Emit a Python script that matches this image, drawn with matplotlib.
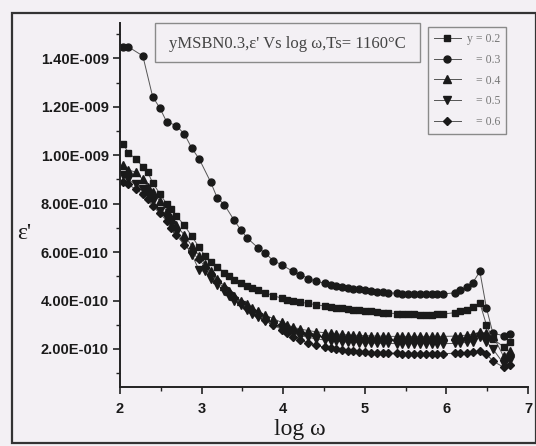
import matplotlib
matplotlib.use('Agg')
import matplotlib.pyplot as plt
import numpy as np
from matplotlib.ticker import FixedLocator, MultipleLocator, FuncFormatter
from matplotlib.patches import Rectangle

nan = float('nan')

log_w = [2.04, 2.10, 2.19, 2.28, 2.34, 2.40, 2.49, 2.57, 2.63, 2.69,
         2.79, 2.88, 2.97, 3.04, 3.11, 3.19, 3.28, 3.34, 3.40, 3.48,
         3.56, 3.62, 3.69, 3.78, 3.88, 3.98, 4.05, 4.12, 4.21, 4.31,
         4.40, 4.51, 4.58, 4.65, 4.72, 4.79, 4.86, 4.93, 5.00, 5.08,
         5.15, 5.22, 5.29, 5.39, 5.46, 5.53, 5.60, 5.68, 5.75, 5.82,
         5.89, 5.96, 6.10, 6.17, 6.25, 6.32, 6.41, 6.49, 6.57, 6.70,
         6.78]

# values in units of 1e-9
eps_y02 = [1.048, 1.010, 0.986, 0.952, 0.930, 0.886, 0.840, 0.800, 0.780, 0.750,
           0.710, 0.665, 0.620, 0.585, 0.560, 0.540, 0.515, 0.500, 0.485, 0.472,
           0.460, 0.452, 0.444, 0.432, 0.420, 0.410, 0.404, 0.398, 0.393, 0.388,
           0.383, 0.377, 0.374, 0.371, 0.368, 0.365, 0.362, 0.360, 0.358, 0.355,
           0.352, 0.350, 0.348, 0.346, 0.345, 0.344, 0.343, 0.342, 0.342, 0.342,
           0.343, 0.344, 0.350, 0.356, 0.362, 0.372, 0.390, 0.300, 0.240, 0.210,
           0.230]

eps_y03 = [1.448, 1.448, nan, 1.410, nan, 1.242, 1.194, 1.139, nan, 1.122,
           1.087, 1.029, 0.985, nan, 0.890, 0.825, 0.795, nan, 0.731, 0.692,
           0.658, nan, 0.618, 0.596, 0.564, 0.548, nan, 0.520, 0.507, 0.491,
           0.479, 0.472, 0.466, 0.461, 0.456, 0.452, 0.449, 0.446, 0.443, 0.440,
           0.437, 0.434, 0.432, 0.430, 0.428, 0.427, 0.426, 0.425, 0.425, 0.425,
           0.426, 0.427, 0.432, 0.442, 0.455, 0.472, 0.520, 0.370, 0.265, 0.255,
           0.260]

eps_y04 = [0.960, 0.940, 0.930, 0.900, 0.870, 0.850, 0.810, 0.770, 0.740, 0.710,
           0.670, 0.625, 0.585, 0.550, 0.520, 0.490, 0.460, 0.440, 0.420, 0.400,
           0.385, 0.370, 0.355, 0.340, 0.325, 0.310, 0.300, 0.290, 0.282, 0.276,
           0.271, 0.267, 0.264, 0.262, 0.260, 0.258, 0.257, 0.256, 0.255, 0.254,
           0.253, 0.253, 0.252, 0.252, 0.252, 0.252, 0.252, 0.252, 0.252, 0.252,
           0.252, 0.252, 0.253, 0.255, 0.257, 0.260, 0.270, 0.265, 0.255, 0.170,
           0.190]

eps_y05 = [0.920, 0.900, 0.880, 0.860, 0.840, 0.810, 0.770, 0.740, 0.710, 0.680,
           0.640, 0.590, 0.525, 0.520, 0.490, 0.465, 0.440, 0.420, 0.400, 0.380,
           0.360, 0.345, 0.330, 0.315, 0.300, 0.285, 0.275, 0.265, 0.255, 0.248,
           0.242, 0.237, 0.234, 0.232, 0.230, 0.228, 0.227, 0.226, 0.225, 0.224,
           0.224, 0.223, 0.223, 0.222, 0.222, 0.222, 0.222, 0.222, 0.222, 0.222,
           0.222, 0.222, 0.223, 0.225, 0.227, 0.230, 0.250, 0.230, 0.200, 0.140,
           0.155]

eps_y06 = [0.890, 0.880, 0.860, 0.840, 0.820, 0.790, 0.760, 0.730, 0.700, 0.670,
           0.630, 0.600, 0.570, 0.540, 0.510, 0.480, 0.450, 0.430, 0.410, 0.390,
           0.370, 0.355, 0.340, 0.320, 0.300, 0.280, 0.265, 0.250, 0.237, 0.225,
           0.215, 0.207, 0.202, 0.198, 0.195, 0.192, 0.190, 0.188, 0.186, 0.185,
           0.184, 0.183, 0.182, 0.182, 0.181, 0.181, 0.181, 0.181, 0.181, 0.181,
           0.181, 0.181, 0.182, 0.183, 0.184, 0.186, 0.190, 0.180, 0.150, 0.125,
           0.135]

series_labels = ['y = 0.2', '   = 0.3', '   = 0.4', '   = 0.5', '   = 0.6']
series_markers = ['s', 'o', '^', 'v', 'D']
series_values = [eps_y02, eps_y03, eps_y04, eps_y05, eps_y06]

y_ticks = [2e-10, 4e-10, 6e-10, 8e-10, 1.0e-9, 1.2e-9, 1.4e-9]
x_ticks = [2, 3, 4, 5, 6, 7]

W, H = 536, 446
bg = '#f3f0f4'
fig = plt.figure(figsize=(W / 100, H / 100), dpi=100, facecolor=bg)

ax_l, ax_r, ax_t, ax_b = 120, 528, 23, 387
ax = fig.add_axes([ax_l / W, 1 - ax_b / H, (ax_r - ax_l) / W, (ax_b - ax_t) / H])
ax.set_facecolor(bg)

x = np.array(log_w)
for vals, mk, lab in zip(series_values, series_markers, series_labels):
    v = np.array(vals) * 1e-9
    m = np.isfinite(v)
    ms = {'o': 5.0, 's': 4.8, '^': 5.4, 'v': 5.4, 'D': 4.4}[mk]
    ax.plot(x[m], v[m], color='#555555', lw=0.7, marker=mk, ms=ms,
            mfc='#1a1a1a', mec='#1a1a1a', label=lab)

ax.set_xlim(2, 7)
ax.set_ylim(0.043e-9, 1.546e-9)

for s in ['top', 'right']:
    ax.spines[s].set_visible(False)
for s in ['left', 'bottom']:
    ax.spines[s].set_linewidth(1.4)
    ax.spines[s].set_color('#222222')

def fmt(v, pos):
    if v == 0:
        return '0'
    e = int(np.floor(np.log10(abs(v)) + 1e-9))
    mant = v / 10 ** e
    sign = '-' if e < 0 else '+'
    return f"{mant:.2f}E{sign}{abs(e):03d}"

ax.yaxis.set_major_locator(FixedLocator(y_ticks))
ax.yaxis.set_major_formatter(FuncFormatter(fmt))
ax.yaxis.set_minor_locator(MultipleLocator(1e-10))
ax.xaxis.set_major_locator(FixedLocator(x_ticks))
ax.xaxis.set_minor_locator(MultipleLocator(0.5))
ax.tick_params(axis='both', which='major', direction='out', length=5, width=1.2,
               color='#222222', labelsize=10.5, labelcolor='#1a1a1a', pad=3)
ax.tick_params(axis='both', which='minor', direction='out', length=3, width=1.0,
               color='#222222')
for lab in ax.get_yticklabels() + ax.get_xticklabels():
    lab.set_fontfamily('Liberation Sans')
    lab.set_fontweight('bold')
ax.tick_params(axis='x', pad=6)

fig.text(300 / W, 1 - 430 / H, 'log ω', ha='center', va='center',
         fontsize=17, family='Liberation Serif', color='#1a1a1a')
fig.text(24 / W, 1 - 234 / H, "ε'", ha='center', va='center',
         fontsize=17, family='Liberation Serif', color='#1a1a1a')

# title box
fig.patches.append(Rectangle((155 / W, 1 - 62 / H), 265 / W, 39 / H,
                             transform=fig.transFigure, fill=False,
                             edgecolor='#8a8a8a', lw=1.0))
fig.text(287 / W, 1 - 44 / H, "yMSBN0.3,ε' Vs log ω,Ts= 1160°C", ha='center',
         va='center', fontsize=12, family='Liberation Serif', color='#444444')

# legend
leg = ax.legend(loc='upper left', bbox_to_anchor=(428 / W, 1 - 27 / H),
                bbox_transform=fig.transFigure, frameon=True, fancybox=False,
                edgecolor='#8a8a8a', facecolor=bg, framealpha=1,
                prop={'family': 'Liberation Serif', 'size': 8.5},
                handlelength=2.3, handletextpad=0.5, labelspacing=0.75,
                borderpad=0.5, borderaxespad=0.0, markerscale=1.0)
leg.get_frame().set_linewidth(1.0)
for t in leg.get_texts():
    t.set_color('#777777')

# outer frame
fig.patches.append(Rectangle((12 / W, 1 - 443 / H), 524 / W, 430 / H,
                             transform=fig.transFigure, fill=False,
                             edgecolor='#333333', lw=1.6))

fig.savefig('out.png', dpi=100, facecolor=bg)
